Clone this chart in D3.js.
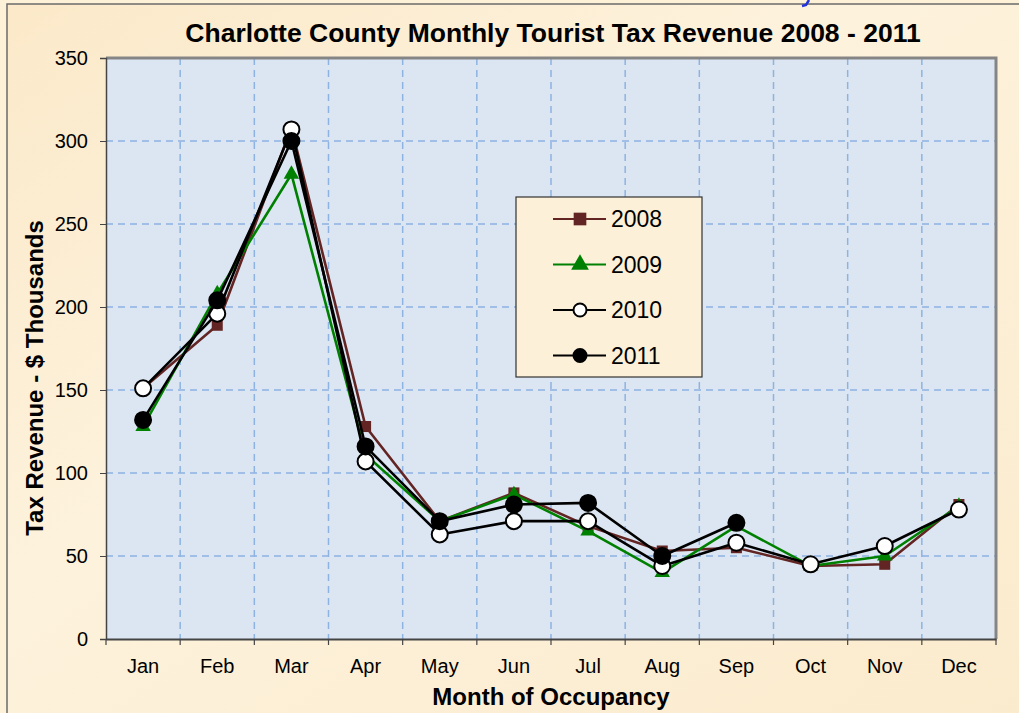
<!DOCTYPE html>
<html>
<head>
<meta charset="utf-8">
<script src="https://cdn.jsdelivr.net/npm/d3@7"></script>
<style>
  body { margin: 0; background: #fdf1d8; }
  svg { display: block; }
</style>
</head>
<body>
<svg width="1019" height="713"></svg>
<script>
var months = ["Jan", "Feb", "Mar", "Apr", "May", "Jun", "Jul", "Aug", "Sep", "Oct", "Nov", "Dec"];
var years = ["2008", "2009", "2010", "2011"];
var rev2008 = [151, 189, 308, 128, 71, 88, 68, 53, 55, 44, 45, 81];
var rev2009 = [128, 208, 280, 111, 71, 87, 65, 40, 68, 44, 50, 80];
var rev2010 = [151, 196, 307, 107, 63, 71, 71, 44, 58, 45, 56, 78];
var rev2011 = [132, 204, 300, 116, 71, 81, 82, 50, 70];
var yTicks = [0, 50, 100, 150, 200, 250, 300, 350];

document.addEventListener('DOMContentLoaded', function() {
    draw();
});

function draw() {
    var svg = d3.select("svg"),
        width = +svg.attr("width"),
        height = +svg.attr("height");

    var left = 106, right = 996, top = 58, bottom = 639;

    // parchment background
    var defs = svg.append("defs");
    var bg = defs.append("linearGradient").attr("id", "parch")
        .attr("x1", 0).attr("y1", 0).attr("x2", 1).attr("y2", 1);
    bg.append("stop").attr("offset", "0%").attr("stop-color", "#fbe9c9");
    bg.append("stop").attr("offset", "40%").attr("stop-color", "#fdf2dc");
    bg.append("stop").attr("offset", "100%").attr("stop-color", "#fbebcd");

    svg.append("rect").attr("x", 0).attr("y", 0).attr("width", width).attr("height", height)
        .attr("fill", "#fdf1d8");
    svg.append("rect").attr("x", 7).attr("y", 4).attr("width", width + 10).attr("height", height + 10)
        .attr("fill", "url(#parch)")
        .attr("stroke", "#6b6b6b").attr("stroke-width", 1.5);

    // blue fragment poking in above the frame
    svg.append("path").attr("d", "M809,0 L806,5 L802,6")
        .attr("fill", "none").attr("stroke", "#2233dd").attr("stroke-width", 2.5);

    var x = d3.scaleBand().domain(months).range([left, right]);
    var y = d3.scaleLinear().domain([0, 350]).range([bottom, top]);

    // plot area
    svg.append("rect").attr("x", left).attr("y", top)
        .attr("width", right - left).attr("height", bottom - top)
        .attr("fill", "#dce6f2");

    // grid
    var grid = svg.append("g").attr("stroke", "#8db3e2").attr("stroke-width", 1.5)
        .attr("stroke-dasharray", "7,5");
    grid.selectAll("line.h").data(yTicks.slice(1, -1)).enter().append("line")
        .attr("x1", left).attr("x2", right)
        .attr("y1", function(d) { return y(d); }).attr("y2", function(d) { return y(d); });
    grid.selectAll("line.v").data(months.slice(1)).enter().append("line")
        .attr("y1", top).attr("y2", bottom)
        .attr("x1", function(d) { return x(d); }).attr("x2", function(d) { return x(d); });

    // plot border (top/right gray)
    svg.append("path")
        .attr("d", "M" + left + "," + top + "H" + right + "V" + bottom)
        .attr("fill", "none").attr("stroke", "#858585").attr("stroke-width", 3);

    // y axis
    var yAxis = svg.append("g").attr("transform", "translate(" + left + ",0)")
        .call(d3.axisLeft(y).tickValues(yTicks).tickSize(6).tickPadding(12));
    yAxis.select(".domain").attr("stroke", "#444").attr("stroke-width", 1.5);
    yAxis.selectAll(".tick line").attr("stroke", "#444");
    yAxis.selectAll("text").attr("font-family", "Arial").attr("font-size", "20px").attr("fill", "#000");

    // x axis
    var xAxis = svg.append("g").attr("transform", "translate(0," + bottom + ")")
        .call(d3.axisBottom(x).tickSize(0).tickPadding(20));
    xAxis.select(".domain").attr("stroke", "#444").attr("stroke-width", 2);
    xAxis.selectAll("text").attr("font-family", "Arial").attr("font-size", "20px").attr("fill", "#000");
    xAxis.selectAll("line.sep").data(months.concat(["end"])).enter().append("line")
        .attr("stroke", "#444").attr("stroke-width", 1.2)
        .attr("x1", function(d, i) { return left + i * x.bandwidth(); })
        .attr("x2", function(d, i) { return left + i * x.bandwidth(); })
        .attr("y1", 0).attr("y2", 6);

    // series
    var series = [
        { name: years[0], values: rev2008, color: "#632523", marker: "square" },
        { name: years[1], values: rev2009, color: "#008000", marker: "triangle" },
        { name: years[2], values: rev2010, color: "#000000", marker: "open" },
        { name: years[3], values: rev2011, color: "#000000", marker: "filled" }
    ];

    var line = d3.line()
        .x(function(d, i) { return x(months[i]) + x.bandwidth() / 2; })
        .y(function(d) { return y(d); });

    // size = circle radius; square and triangle scaled from it
    function marker(g, s, size, shapeScale) {
        if (s.marker == "square") {
            g.append("path").attr("d", d3.symbol(d3.symbolSquare, size * size * shapeScale)())
                .attr("fill", s.color);
        } else if (s.marker == "triangle") {
            g.append("path").attr("d", d3.symbol(d3.symbolTriangle, size * size * shapeScale * 0.85)())
                .attr("fill", s.color);
        } else if (s.marker == "open") {
            g.append("circle").attr("r", size).attr("fill", "#fff")
                .attr("stroke", "#000").attr("stroke-width", 2);
        } else {
            g.append("circle").attr("r", size).attr("fill", "#000")
                .attr("stroke", "#000").attr("stroke-width", 2);
        }
    }

    series.forEach(function(s) {
        var g = svg.append("g");
        g.append("path").datum(s.values).attr("d", line)
            .attr("fill", "none").attr("stroke", s.color).attr("stroke-width", 2.6)
            .attr("stroke-linejoin", "round");
        s.values.forEach(function(v, i) {
            var m = g.append("g").attr("transform",
                "translate(" + (x(months[i]) + x.bandwidth() / 2) + "," + y(v) + ")");
            marker(m, s, 8, 1.9);
        });
    });

    // legend
    var lg = svg.append("g").attr("transform", "translate(516,197)");
    lg.append("rect").attr("width", 186).attr("height", 180)
        .attr("fill", "#fcf0d8").attr("stroke", "#333").attr("stroke-width", 1.2);
    series.forEach(function(s, i) {
        var row = lg.append("g").attr("transform", "translate(0," + (22 + i * 45.5) + ")");
        row.append("line").attr("x1", 37).attr("x2", 90).attr("y1", 0).attr("y2", 0)
            .attr("stroke", s.color).attr("stroke-width", 2);
        var m = row.append("g").attr("transform", "translate(64,0)");
        marker(m, s, 6.5, 3.8);
        row.append("text").attr("x", 95).attr("y", 0).attr("dy", "0.36em")
            .attr("font-family", "Arial").attr("font-size", "23px").attr("fill", "#000")
            .text(s.name);
    });

    // titles
    svg.append("text").attr("x", 553).attr("y", 42).attr("text-anchor", "middle")
        .attr("font-family", "Arial").attr("font-size", "26.5px").attr("font-weight", "bold")
        .text("Charlotte County Monthly Tourist Tax Revenue 2008 - 2011");
    svg.append("text").attr("x", 551).attr("y", 705).attr("text-anchor", "middle")
        .attr("font-family", "Arial").attr("font-size", "24px").attr("font-weight", "bold")
        .text("Month of Occupancy");
    svg.append("text").attr("transform", "translate(43,378) rotate(-90)")
        .attr("text-anchor", "middle")
        .attr("font-family", "Arial").attr("font-size", "24px").attr("font-weight", "bold")
        .text("Tax Revenue - $ Thousands");
}
</script>
</body>
</html>
